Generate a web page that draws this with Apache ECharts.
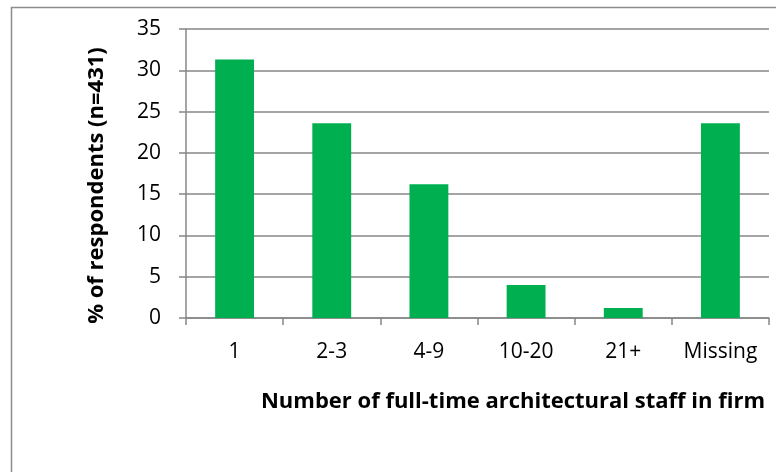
<!DOCTYPE html>
<html>
<head>
<meta charset="utf-8">
<script src="https://cdn.jsdelivr.net/npm/echarts@6/dist/echarts.min.js"></script>
<style>
  html, body { margin: 0; padding: 0; background: #fff; }
  #chart { width: 776px; height: 472px; }
</style>
</head>
<body>
<div id="chart"></div>
<script>
// Firm size categories and share of respondents (%)
const categories = ['1', '2-3', '4-9', '10-20', '21+', 'Missing'];
const percentages = [31.3, 23.6, 16.2, 4.0, 1.2, 23.6];
const yTicks = [0, 5, 10, 15, 20, 25, 30, 35];

const FONT = '"Open Sans", Lato, sans-serif';
const GRID_COLOR = '#878787';

const chart = echarts.init(document.getElementById('chart'), null, { renderer: 'canvas' });

chart.setOption({
  animation: false,
  backgroundColor: '#ffffff',
  title: {
    text: 'Number of full-time architectural staff in firm',
    right: 6,
    top: 386,
    textStyle: { fontFamily: FONT, fontSize: 22, fontWeight: 'bold', color: '#000' }
  },
  graphic: [{
    type: 'rect',
    shape: { x: 11.5, y: 7.5, width: 800, height: 500 },
    style: { fill: 'none', stroke: '#8c8c8c', lineWidth: 1.5 },
    silent: true
  }],
  grid: { left: 186, top: 29, right: 7, bottom: 154, containLabel: false },
  xAxis: {
    type: 'category',
    data: categories,
    axisLine: { lineStyle: { color: GRID_COLOR, width: 1.5 } },
    axisTick: { show: true, interval: 0, length: 7, lineStyle: { color: GRID_COLOR, width: 1.5 } },
    axisLabel: { interval: 0, hideOverlap: false, fontFamily: FONT, fontSize: 21, color: '#000', margin: 24 },
    splitLine: { show: false }
  },
  yAxis: {
    type: 'value',
    min: yTicks[0],
    max: yTicks[yTicks.length - 1],
    interval: 5,
    name: '% of respondents (n=431)',
    nameLocation: 'middle',
    nameGap: 78,
    nameTextStyle: { fontFamily: FONT, fontSize: 22, fontWeight: 'bold', color: '#000', padding: [0, 24, 0, 0] },
    axisLine: { show: true, lineStyle: { color: GRID_COLOR, width: 1.5 } },
    axisTick: { show: true, length: 7, lineStyle: { color: GRID_COLOR, width: 1.5 } },
    axisLabel: { fontFamily: FONT, fontSize: 21, color: '#000', margin: 25 },
    splitLine: { show: true, lineStyle: { color: GRID_COLOR, width: 1.5 } }
  },
  series: [{
    type: 'bar',
    data: percentages,
    barWidth: '40%',
    itemStyle: { color: '#00AF50' }
  }]
});
</script>
</body>
</html>
